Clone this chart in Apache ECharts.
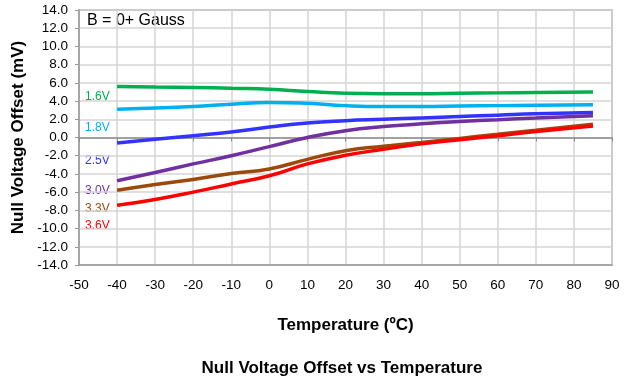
<!DOCTYPE html>
<html>
<head>
<meta charset="utf-8">
<script src="https://cdn.jsdelivr.net/npm/echarts@6/dist/echarts.min.js"></script>
<style>
  html, body { margin: 0; padding: 0; background: #fff; }
  #chart { width: 636px; height: 379px; }
</style>
</head>
<body>
<div id="chart"></div>
<script>
// temperature points (°C)
var temps = [-40, -30, -20, -10, 0, 10, 20, 30, 40, 50, 60, 70, 85];
// null voltage offset (mV) per supply voltage
var v16 = [5.6, 5.55, 5.5, 5.4, 5.3, 5.05, 4.85, 4.8, 4.8, 4.85, 4.9, 4.95, 5.0];
var v18 = [3.1, 3.25, 3.4, 3.65, 3.85, 3.75, 3.5, 3.4, 3.4, 3.45, 3.5, 3.55, 3.6];
var v25 = [-0.6, -0.2, 0.2, 0.6, 1.15, 1.6, 1.85, 2.0, 2.15, 2.3, 2.45, 2.6, 2.75];
var v30 = [-4.75, -3.85, -2.9, -2.0, -1.0, 0.0, 0.75, 1.2, 1.5, 1.75, 1.95, 2.15, 2.4];
var v33 = [-5.8, -5.15, -4.6, -3.95, -3.45, -2.4, -1.45, -0.95, -0.55, -0.1, 0.35, 0.8, 1.45];
var v36 = [-7.45, -6.8, -6.0, -5.1, -4.2, -2.9, -1.95, -1.3, -0.7, -0.25, 0.2, 0.65, 1.25];

var names = ['1.6V', '1.8V', '2.5V', '3.0V', '3.3V', '3.6V'];
var colors = ['#00B050', '#00B0F0', '#3333FF', '#7030A0', '#9C4A0A', '#FF0000'];
var values = [v16, v18, v25, v30, v33, v36];

var FONT = '"Liberation Sans", Arial, sans-serif';

function pairs(arr) {
  return temps.map(function (t, i) { return [t, arr[i]]; });
}

var series = values.map(function (arr, i) {
  return {
    name: names[i],
    type: 'line',
    smooth: true,
    showSymbol: false,
    xAxisIndex: 0,
    lineStyle: { width: 3.5, color: colors[i] },
    data: pairs(arr)
  };
});

// the labels at the left of the curves
var labelY = [98, 129, 162, 192, 210, 227];
var graphics = names.map(function (n, i) {
  return {
    type: 'text', left: 85, top: labelY[i] - 7,
    style: { text: n, fill: colors[i], font: '12px ' + FONT }
  };
});
graphics.push({
  type: 'text', left: 87, top: 13,
  style: { text: 'B = 0+ Gauss', fill: '#000', font: '16px ' + FONT }
});

var chart = echarts.init(document.getElementById('chart'));
chart.setOption({
  animation: false,
  title: {
    text: 'Null Voltage Offset vs Temperature',
    left: 337, top: 355, textAlign: 'center',
    textStyle: { fontFamily: FONT, fontSize: 17, fontWeight: 'bold', color: '#000' }
  },
  grid: {
    left: 79, right: 24, top: 10, bottom: 114,
    show: true, borderColor: '#999', borderWidth: 1.5
  },
  xAxis: [{
    type: 'value', min: -50, max: 90, interval: 10,
    name: 'Temperature (ºC)', nameLocation: 'middle', nameGap: 52,
    nameTextStyle: { fontFamily: FONT, fontSize: 17, fontWeight: 'bold', color: '#000' },
    axisLine: { onZero: false, lineStyle: { color: '#999', width: 1.5 } },
    axisTick: { show: false },
    axisLabel: { color: '#000', fontFamily: FONT, fontSize: 13.5, margin: 13 },
    splitLine: { show: true, lineStyle: { color: '#D4D4D4', width: 1.5 } }
  }, {
    type: 'value', min: -50, max: 90, interval: 10, position: 'bottom',
    axisLine: { onZero: true, lineStyle: { color: '#8c8c8c', width: 1.5 } },
    axisTick: { show: true, length: 4, lineStyle: { color: '#8c8c8c' } },
    axisLabel: { show: false },
    splitLine: { show: false }
  }],
  yAxis: {
    type: 'value', min: -14, max: 14, interval: 2,
    name: 'Null Voltage Offset (mV)', nameLocation: 'middle', nameGap: 46,
    nameTextStyle: { fontFamily: FONT, fontSize: 17, fontWeight: 'bold', color: '#000' },
    axisLine: { show: true, onZero: false, lineStyle: { color: '#999', width: 1.5 } },
    axisTick: { show: true, length: 4, lineStyle: { color: '#999' } },
    axisLabel: {
      color: '#000', fontFamily: FONT, fontSize: 13.5, margin: 11,
      formatter: function (v) { return v.toFixed(1); }
    },
    splitLine: { show: true, lineStyle: { color: '#D4D4D4', width: 1.5 } }
  },
  graphic: graphics,
  series: series
});
</script>
</body>
</html>
